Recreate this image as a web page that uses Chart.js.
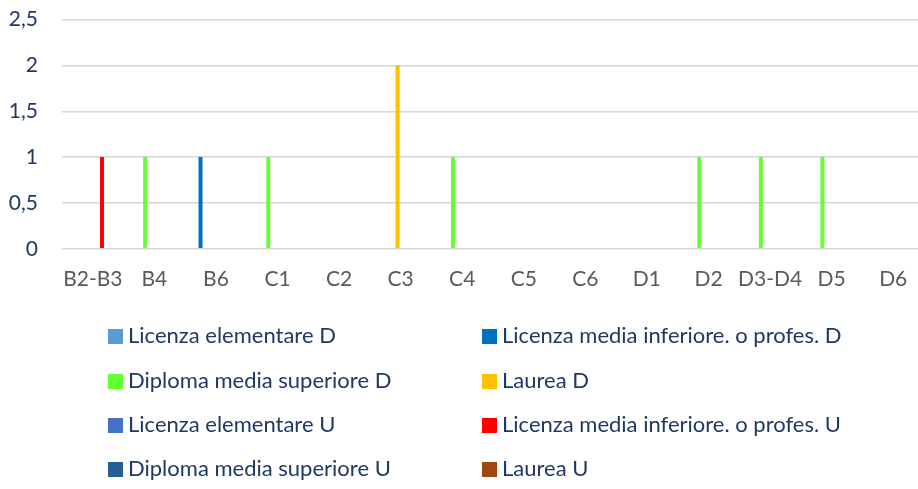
<!DOCTYPE html>
<html>
<head>
<meta charset="utf-8">
<script src="https://cdn.jsdelivr.net/npm/chart.js@4"></script>
<style>
  html, body { margin: 0; padding: 0; background: #fff; overflow: hidden; }
  #wrap { position: relative; width: 918px; height: 489px; overflow: hidden; }
  #box { position: absolute; left: 0; top: -17px; width: 924px; height: 327px; }
  #legend { position: absolute; left: 0; top: 0; width: 918px; height: 489px; pointer-events: none;
            font-family: Lato, sans-serif; font-size: 22px; color: #1f3864; }
  .item { position: absolute; height: 26px; line-height: 26px; white-space: nowrap; }
  .item span.sw { display: inline-block; width: 15px; height: 15px; margin-right: 5px; vertical-align: -1px; }
</style>
</head>
<body>
<div id="wrap">
  <div id="box"><canvas id="myChart"></canvas></div>
  <div id="legend"></div>
</div>
<script>
'use strict';

var categories = ['B2-B3', 'B4', 'B6', 'C1', 'C2', 'C3', 'C4', 'C5', 'C6', 'D1', 'D2', 'D3-D4', 'D5', 'D6'];

var seriesNames = [
  'Licenza elementare D',
  'Licenza media inferiore. o profes. D',
  'Diploma media superiore D',
  'Laurea D',
  'Licenza elementare U',
  'Licenza media inferiore. o profes. U',
  'Diploma media superiore U',
  'Laurea U'
];
var seriesColors = ['#5b9bd5', '#0070c0', '#66ff33', '#ffc000', '#4472c4', '#ff0000', '#255e91', '#9e480e'];

//                      B2-B3 B4 B6 C1 C2 C3 C4 C5 C6 D1 D2 D3-D4 D5 D6
var licElemD        = [0, 0, 0, 0, 0, 0, 0, 0, 0, 0, 0, 0, 0, 0];
var licMediaD       = [0, 0, 1, 0, 0, 0, 0, 0, 0, 0, 0, 0, 0, 0];
var diplomaD        = [0, 1, 0, 1, 0, 0, 1, 0, 0, 0, 1, 1, 1, 0];
var laureaD         = [0, 0, 0, 0, 0, 2, 0, 0, 0, 0, 0, 0, 0, 0];
var licElemU        = [0, 0, 0, 0, 0, 0, 0, 0, 0, 0, 0, 0, 0, 0];
var licMediaU       = [1, 0, 0, 0, 0, 0, 0, 0, 0, 0, 0, 0, 0, 0];
var diplomaU        = [0, 0, 0, 0, 0, 0, 0, 0, 0, 0, 0, 0, 0, 0];
var laureaU         = [0, 0, 0, 0, 0, 0, 0, 0, 0, 0, 0, 0, 0, 0];
var seriesValues = [licElemD, licMediaD, diplomaD, laureaD, licElemU, licMediaU, diplomaU, laureaU];

var yTickValues = [0, 0.5, 1, 1.5, 2, 2.5];
var yTickLabels = ['0', '0,5', '1', '1,5', '2', '2,5'];

var datasets = seriesNames.map(function (name, i) {
  return {
    label: name,
    data: seriesValues[i],
    backgroundColor: seriesColors[i],
    borderWidth: 0
  };
});

var ctx = document.getElementById('myChart');
var chart = new Chart(ctx, {
  type: 'bar',
  data: { labels: categories, datasets: datasets },
  options: {
    responsive: true,
    maintainAspectRatio: false,
    animation: false,
    categoryPercentage: 0.8,
    barPercentage: 0.65,
    layout: { padding: { top: 3, right: 0, bottom: 8, left: 0 } },
    plugins: { legend: { display: false }, tooltip: { enabled: false } },
    scales: {
      x: {
        grid: { display: false },
        border: { display: false },
        ticks: { color: '#595959', font: { family: 'Lato', size: 21 }, padding: 10, maxRotation: 0, autoSkip: false }
      },
      y: {
        min: 0,
        max: 2.5,
        afterFit: function (scale) { scale.width = 62; },
        afterBuildTicks: function (scale) {
          scale.ticks = yTickValues.map(function (v) { return { value: v }; });
        },
        grid: { color: '#d6d6d6', lineWidth: 1.5, drawTicks: false },
        border: { display: false },
        ticks: {
          color: '#1f3864',
          font: { family: 'Lato', size: 21 },
          padding: 24,
          callback: function (v) {
            var k = yTickValues.indexOf(v);
            return k >= 0 ? yTickLabels[k] : '';
          }
        }
      }
    }
  }
});

// legend in two columns, like the original
var legendEl = document.getElementById('legend');
var colX = [108, 482];
var rowY = [322, 367, 411, 455];
chart.data.datasets.forEach(function (ds, i) {
  var div = document.createElement('div');
  div.className = 'item';
  div.style.left = colX[i % 2] + 'px';
  div.style.top = rowY[Math.floor(i / 2)] + 'px';
  div.innerHTML = '<span class="sw" style="background:' + ds.backgroundColor + '"></span>' + ds.label;
  legendEl.appendChild(div);
});
</script>
</body>
</html>
